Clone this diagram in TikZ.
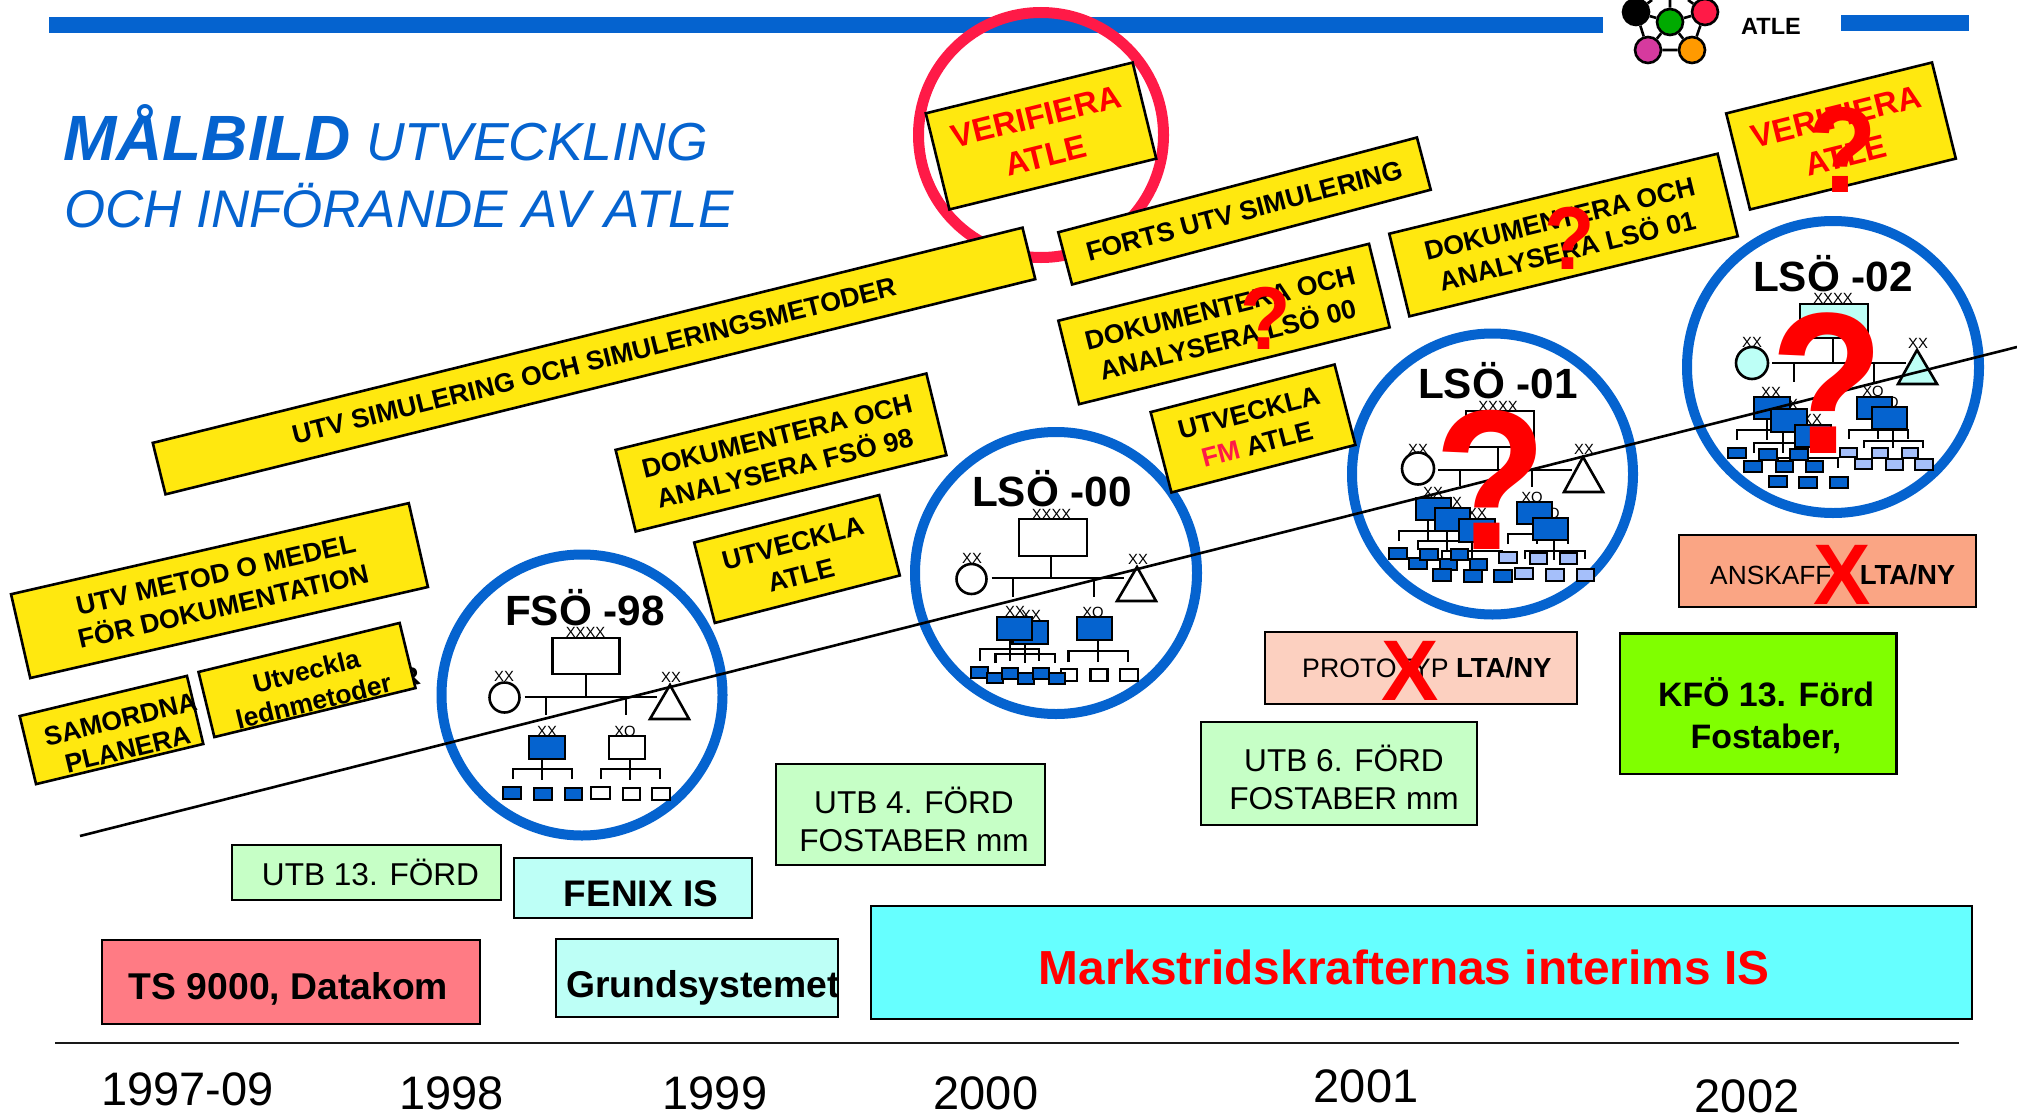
\documentclass[tikz,border=0pt]{standalone}
\usepackage{fontspec}
\usepackage{graphicx}
\setmainfont{Liberation Sans}
\definecolor{barblue}{HTML}{0563CF}
\definecolor{yel}{HTML}{FFE80F}
\definecolor{ringred}{HTML}{FF1A47}
\definecolor{lightgreen}{HTML}{C6FFC6}
\definecolor{paleaqua}{HTML}{BDFFF6}
\definecolor{tsred}{HTML}{FF7B84}
\definecolor{aqua}{HTML}{66FFFF}
\definecolor{peach}{HTML}{FCD0C0}
\definecolor{salmon}{HTML}{FAA584}
\definecolor{limeg}{HTML}{80FF00}
\definecolor{lightblue}{HTML}{A5BFFA}
\definecolor{lpink}{HTML}{D63A9E}
\definecolor{lorange}{HTML}{FF9A00}
\definecolor{lgreen}{HTML}{00AA00}
\newcount\xlc
\newcommand\fsz[2]{\fontsize{#1}{#2}\selectfont}
\newcommand\qm{\scalebox{0.97}[1.05]{?}}
% yellow tilted box: name, cx, cy, w, h, angle, text
\newcommand\ybox[7]{\node[ybx,rotate=#6,minimum width=#4pt,minimum height=#5pt] (#1) at (#2,#3) {#7};}
\newcommand\xl[3]{\global\advance\xlc by 1 \node[xlab] (xl\the\xlc) at (#1,#2) {#3};}
\newcommand\sbx[5]{\path[draw=black,line width=2.4pt,fill=#5] (#1,#2) rectangle (#3,#4);}
\newcommand\rbx[5]{\path[draw=black,line width=2.6pt,fill=#5] (#1,#2) rectangle (#3,#4);}
\tikzset{
 ybx/.style={draw=black,line width=2.6pt,fill=yel,inner sep=0pt,align=center,text=black,font=\fsz{26.7}{33}\bfseries},
 vfy/.style={draw=black,line width=2.6pt,fill=yel,inner sep=0pt,align=center,text=red,font=\fsz{32.5}{40}\bfseries},
 ytxt/.style={inner sep=0pt,align=center,font=\fsz{26.5}{31}\bfseries},
 xlab/.style={inner sep=0pt,font=\fsz{14.8}{15}},
 orgl/.style={line width=2.6pt,draw=black},
 ttl/.style={inner sep=0pt,anchor=base,font=\fsz{42.3}{43}\bfseries},
 bigq/.style={inner sep=0pt,anchor=base,text=red,font=\fsz{#1}{#1}\bfseries},
 bigx/.style={inner sep=0pt,text=red,font=\fsz{86}{86}\bfseries},
 lbl/.style={inner sep=0pt,anchor=base,font=\fsz{31.6}{38}},
 yr/.style={inner sep=0pt,anchor=base,font=\fsz{47}{47}},
 lnode/.style={circle,draw=black,line width=2.6pt,minimum size=26pt,inner sep=0pt},
 ring/.style={draw=barblue,line width=10pt},
}
\begin{document}
\begin{tikzpicture}[x=1pt,y=-1pt]
\useasboundingbox (0,0) rectangle (2017,1116);
\fill[white] (0,0) rectangle (2017,1116);
% top bars
\fill[barblue] (49,17) rectangle (1603,33);
\fill[barblue] (1841,15) rectangle (1969,31);
% logo
\node[lnode,fill=black] (lb) at (1636,12) {};
\node[lnode,fill=lgreen] (lg) at (1670,22) {};
\node[lnode,fill=ringred] (lr) at (1705,12) {};
\node[lnode,fill=lpink] (lp) at (1648,50) {};
\node[lnode,fill=lorange] (lo) at (1692,50) {};
\coordinate (lt) at (1670,0);
\coordinate (lta) at (1652,0);
\coordinate (ltb) at (1688,0);
\draw[orgl] (lb)--(lg) (lg)--(lr) (lg)--(lp) (lg)--(lo) (lp)--(lo) (lb)--(lp) (lr)--(lo) (lg)--(lt) (lb)--(lta) (lr)--(ltb);
\node[inner sep=0pt,font=\fsz{23.5}{24}\bfseries] (atle) at (1771,26) {ATLE};
% title
\node[inner sep=0pt,anchor=base west,text=barblue,font=\fsz{53.5}{54}\itshape] (t1) at (63,160.5) {{\fsz{64}{64}\bfseries MÅLBILD} UTVECKLING};
\node[inner sep=0pt,anchor=base west,text=barblue,font=\fsz{52.9}{53}\itshape] (t2) at (64,227) {OCH INFÖRANDE AV ATLE};
% red ring
\draw[draw=ringred,line width=11pt] (1041,135) circle (122.5);
% blue rings
\draw[ring] (582,695) circle (140.5);
\draw[ring] (1056,573) circle (141);
\draw[ring] (1492.5,474) circle (140.5);
\draw[ring] (1833,367) circle (146);
% stray letter behind box
\node[inner sep=0pt,rotate=13.7,font=\fsz{26.5}{27}\bfseries] (stray) at (410,677) {R};
% yellow boxes
\ybox{b1}{219.5}{590.6}{408}{86}{12.9}{UTV METOD O MEDEL\\FÖR DOKUMENTATION}
\ybox{b2}{111.5}{730}{172}{70}{13.5}{}
\node[ytxt,rotate=13.5] (b2t) at (124,734) {SAMORDNA\\PLANERA};
\ybox{b3}{307}{680}{207}{67}{13.7}{}
\node[ytxt,rotate=13.7] (b3t) at (310,686) {Utveckla\\lednmetoder};
\ybox{b4}{594}{361}{896}{53}{13.9}{UTV SIMULERING OCH SIMULERINGSMETODER}
\ybox{b5}{781}{452.5}{320}{84}{13.8}{DOKUMENTERA OCH\\ANALYSERA FSÖ 98}
\ybox{b6}{797}{559}{191}{83}{14.4}{UTVECKLA\\ATLE}
\node[vfy,rotate=13.8,minimum width=213pt,minimum height=99pt] (b7) at (1041,136) {VERIFIERA\\ATLE};
\ybox{b8}{1244.5}{211}{371}{54}{14.8}{FORTS UTV SIMULERING}
\ybox{b9}{1224}{324}{320}{86}{13.9}{DOKUMENTERA OCH\\ANALYSERA LSÖ 00}
\ybox{b10}{1253}{428.5}{190}{83}{14.5}{UTVECKLA\\\textcolor{ringred}{FM} ATLE}
\ybox{b11}{1563.5}{235}{338}{85}{13.7}{DOKUMENTERA OCH\\ANALYSERA LSÖ 01}
\node[vfy,rotate=13.9,minimum width=212pt,minimum height=99pt] (b12) at (1841,136) {VERIFIERA\\ATLE};
% ---- FSÖ-98
\node[ttl] (tf) at (585,625) {FSÖ -98};
\xl{585.5}{632}{XXXX}\xl{504}{676}{XX}\xl{671}{677}{XX}\xl{547}{731}{XX}\xl{625}{731}{XO}
\sbx{552.6}{638}{619.5}{674}{white}
\draw[orgl] (586,674)--(586,697) (524.5,697)--(657,697) (546,697)--(546,715) (626,697)--(626,715);
\draw[orgl] (504.5,697.5) circle (15);
\draw[orgl] (670,685)--(689,719)--(650,719)--cycle;
\draw[orgl] (542,759)--(542,780) (513,779)--(513,769)--(572,769)--(572,779);
\draw[orgl] (630,759)--(630,780) (601,779)--(601,769)--(660,769)--(660,779);
\sbx{529}{736}{565}{759}{barblue}\sbx{609}{736}{645}{759}{white}
\sbx{503}{787}{521}{799}{barblue}\sbx{534}{788}{552}{800}{barblue}\sbx{565}{788}{582}{800}{barblue}
\sbx{591}{787}{610}{799}{white}\sbx{623}{788}{640}{800}{white}\sbx{652}{788}{670}{800}{white}
% ---- LSÖ-00
\node[ttl] (tl0) at (1052,506) {LSÖ -00};
\xl{1051.5}{514}{XXXX}\xl{972}{558}{XX}\xl{1138}{559}{XX}\xl{1015}{611}{XX}\xl{1031}{615}{XX}\xl{1093}{612}{XO}
\sbx{1019}{519}{1087}{556}{white}
\draw[orgl] (1051,556)--(1051,578) (991.5,578)--(1124,578) (1013,578)--(1013,597) (1094,578)--(1094,597);
\draw[orgl] (971.5,579) circle (15);
\draw[orgl] (1137,567)--(1156,601)--(1117,601)--cycle;
\draw[orgl] (1010,640)--(1010,661) (980,661)--(980,649)--(1039,649)--(1039,661);
\draw[orgl] (1025,644)--(1025,663) (995.5,663)--(995.5,654)--(1055,654)--(1055,663);
\draw[orgl] (1098,640)--(1098,662) (1068.5,662)--(1068.5,651)--(1128,651)--(1128,662);
\sbx{1012.5}{621}{1048}{644}{barblue}\sbx{997}{617}{1032}{640}{barblue}\sbx{1077}{617}{1112}{640}{barblue}
\sbx{1061}{669}{1077}{681}{white}\sbx{1090.5}{669}{1107.5}{681}{white}\sbx{1120}{669}{1138}{681}{white}
\sbx{971}{667}{988}{678}{barblue}\sbx{987}{673}{1003}{683}{barblue}\sbx{1002}{668}{1018}{679}{barblue}
\sbx{1018}{673}{1034}{684}{barblue}\sbx{1033}{668}{1049}{679}{barblue}\sbx{1049}{673}{1065}{684}{barblue}
% ---- LSÖ-01
\node[ttl] (tl1) at (1498,398) {LSÖ -01};
\xl{1498}{406}{XXXX}\xl{1418}{449}{XX}\xl{1584}{449}{XX}\xl{1433}{492}{XX}\xl{1452}{502}{XX}\xl{1477}{513}{XX}\xl{1532}{497}{XO}\xl{1549}{513}{XO}
\sbx{1466}{411}{1534}{447}{white}
\draw[orgl] (1498,447)--(1498,470) (1438,470)--(1572,470) (1460,470)--(1460,486) (1532,470)--(1532,487);
\draw[orgl] (1418,468.5) circle (16);
\draw[orgl] (1583,457)--(1603,492)--(1564,492)--cycle;
\draw[orgl] (1428,520)--(1428,541) (1399,541)--(1399,531)--(1458,531);
\draw[orgl] (1447,531)--(1447,550) (1418,550)--(1418,541)--(1476,541);
\draw[orgl] (1472,542)--(1472,560) (1442,559)--(1442,551)--(1502,551)--(1502,559);
\draw[orgl] (1508,544)--(1508,534)--(1537,534);
\draw[orgl] (1554,540)--(1554,560) (1525,559)--(1525,551)--(1585,551)--(1585,559) (1537,534)--(1537,544) (1568,540)--(1568,544);
\sbx{1416}{498}{1451}{520}{barblue}
% ---- LSÖ-02
\node[ttl] (tl2) at (1833,291) {LSÖ -02};
\xl{1833}{298}{XXXX}\xl{1752}{342}{XX}\xl{1918}{343}{XX}\xl{1771}{392}{XX}\xl{1788}{404}{XX}\xl{1812}{419}{XX}\xl{1873}{391}{XO}\xl{1888}{402}{XO}
\sbx{1800}{304}{1868}{338}{paleaqua}
\draw[orgl] (1833,338)--(1833,363) (1772,363)--(1906,363) (1794,363)--(1794,382) (1874,363)--(1874,382);
\draw[orgl,fill=paleaqua] (1752,363) circle (16);
\draw[orgl,fill=paleaqua] (1917,350)--(1937,384)--(1898,384)--cycle;
\draw[orgl] (1767,419)--(1767,440) (1737,440)--(1737,430)--(1788,430);
\draw[orgl] (1783,432)--(1783,453) (1754,453)--(1754,443)--(1808,443);
\draw[orgl] (1808,447)--(1808,468) (1778,468)--(1778,458)--(1838,458)--(1838,468);
\draw[orgl] (1878,419)--(1878,439) (1849,439)--(1849,430)--(1908,430)--(1908,439);
\draw[orgl] (1893,429)--(1893,448) (1864,448)--(1864,441)--(1923,441)--(1923,448);
\sbx{1754}{397}{1790}{419}{barblue}
\sbx{1857}{397}{1892}{419}{barblue}
% diagonal line
\coordinate (d1) at (80,836);
\coordinate (d2) at (2017,347);
\draw[line width=2.6pt,black] (d1)--(d2);
% LSÖ-01 boxes above the line
\sbx{1435}{508}{1470}{531}{barblue}\sbx{1459}{519}{1495}{542}{barblue}\sbx{1517}{502}{1552}{524}{barblue}\sbx{1533}{518}{1568}{540}{barblue}
\sbx{1389}{548}{1407}{559}{barblue}\sbx{1409}{558}{1427}{569}{barblue}\sbx{1420}{549}{1438}{560}{barblue}
\sbx{1440}{559}{1457}{570}{barblue}\sbx{1451}{549}{1468}{560}{barblue}\sbx{1470}{559}{1487}{570}{barblue}
\sbx{1433}{569}{1451}{581}{barblue}\sbx{1464}{570}{1482}{582}{barblue}\sbx{1494}{570}{1512}{582}{barblue}
\sbx{1499}{552}{1517}{563}{lightblue}\sbx{1530}{553}{1547}{564}{lightblue}\sbx{1560}{553}{1577}{564}{lightblue}
\sbx{1515}{568}{1533}{579}{lightblue}\sbx{1546}{569}{1564}{581}{lightblue}\sbx{1577}{569}{1594}{581}{lightblue}
% LSÖ-02 boxes above the line
\sbx{1771}{409}{1807}{432}{barblue}\sbx{1795}{425}{1831}{447}{barblue}\sbx{1872}{407}{1907}{429}{barblue}
\sbx{1728}{448}{1746}{458}{barblue}\sbx{1744}{461}{1762}{472}{barblue}\sbx{1759}{449}{1777}{460}{barblue}
\sbx{1776}{461}{1793}{472}{barblue}\sbx{1790}{449}{1808}{460}{barblue}\sbx{1806}{461}{1823}{472}{barblue}
\sbx{1769}{476}{1787}{487}{barblue}\sbx{1799}{477}{1817}{488}{barblue}\sbx{1830}{477}{1848}{488}{barblue}
\sbx{1840}{448}{1857}{457}{lightblue}\sbx{1855}{459}{1872}{469}{lightblue}\sbx{1872}{448}{1888}{458}{lightblue}
\sbx{1886}{459}{1903}{470}{lightblue}\sbx{1902}{448}{1918}{458}{lightblue}\sbx{1915}{459}{1933}{470}{lightblue}
% lower boxes
\rbx{232}{845}{501}{900}{lightgreen}
\node[lbl] (u13) at (370.5,885) {UTB 13. FÖRD};
\rbx{514}{858}{752}{918}{paleaqua}
\node[inner sep=0pt,anchor=base,font=\fsz{37}{37}\bfseries] (fenix) at (641,906) {FENIX IS};
\rbx{102}{940}{480}{1024}{tsred}
\node[inner sep=0pt,anchor=base,font=\fsz{37.3}{38}\bfseries] (ts) at (288.5,999) {TS 9000, Datakom};
\rbx{556}{939}{838}{1017}{paleaqua}
\node[inner sep=0pt,anchor=base west,font=\fsz{37.3}{38}\bfseries] (grund) at (566,997) {Grundsystemet};
\rbx{776}{764}{1045}{865}{lightgreen}
\node[lbl,align=center,anchor=center] (u4) at (914,819) {UTB 4. FÖRD\\FOSTABER mm};
\rbx{871}{906}{1972}{1019}{aqua}
\node[inner sep=0pt,anchor=base,text=red,font=\fsz{47.8}{48}\bfseries] (mark) at (1404,984) {Markstridskrafternas interims IS};
\rbx{1265}{632}{1577}{704}{peach}
\node[inner sep=0pt,anchor=base west,font=\fsz{26.7}{27}] (proto) at (1302,677) {PROTOTYP \fontsize{27.6}{27}\selectfont\textbf{LTA/NY}};
\node[bigx] (x1) at (1410,671) {X};
\rbx{1679}{535}{1976}{607}{salmon}
\node[inner sep=0pt,anchor=base west,font=\fsz{26.3}{27}] (ansk) at (1710,584) {ANSKAFF\hspace{21pt} \fontsize{27.6}{27}\selectfont\textbf{LTA/NY}};
\node[bigx] (x2) at (1842,575) {X};
\rbx{1620}{633.5}{1896.5}{774}{limeg}
\node[inner sep=0pt,align=center,font=\fsz{33.9}{42}\bfseries] (kfo) at (1766,716) {KFÖ 13. Förd\\Fostaber,};
\rbx{1201}{722}{1477}{825}{lightgreen}
\node[lbl,align=center,anchor=center] (u6) at (1344,777.5) {UTB 6. FÖRD\\FOSTABER mm};
% red question marks
\node[bigq=85] (q1) at (1266,349) {\qm};
\node[bigq=85] (q2) at (1570,269) {\qm};
\node[bigq=116] (q3) at (1843,192) {\qm};
\node[bigq=190] (q4) at (1491,549) {\qm};
\node[bigq=192] (q5) at (1827,453) {\qm};
% time axis
\coordinate (a1) at (55,1043);
\coordinate (a2) at (1959,1043);
\draw[line width=2.8pt,black!90] (a1)--(a2);
\node[yr] (y0) at (187.5,1105) {1997-09};
\node[yr] (y1) at (451.5,1109) {1998};
\node[yr] (y2) at (715,1109) {1999};
\node[yr] (y3) at (986,1109) {2000};
\node[yr] (y4) at (1366,1102) {2001};
\node[yr] (y5) at (1747,1112) {2002};
\end{tikzpicture}
\end{document}
